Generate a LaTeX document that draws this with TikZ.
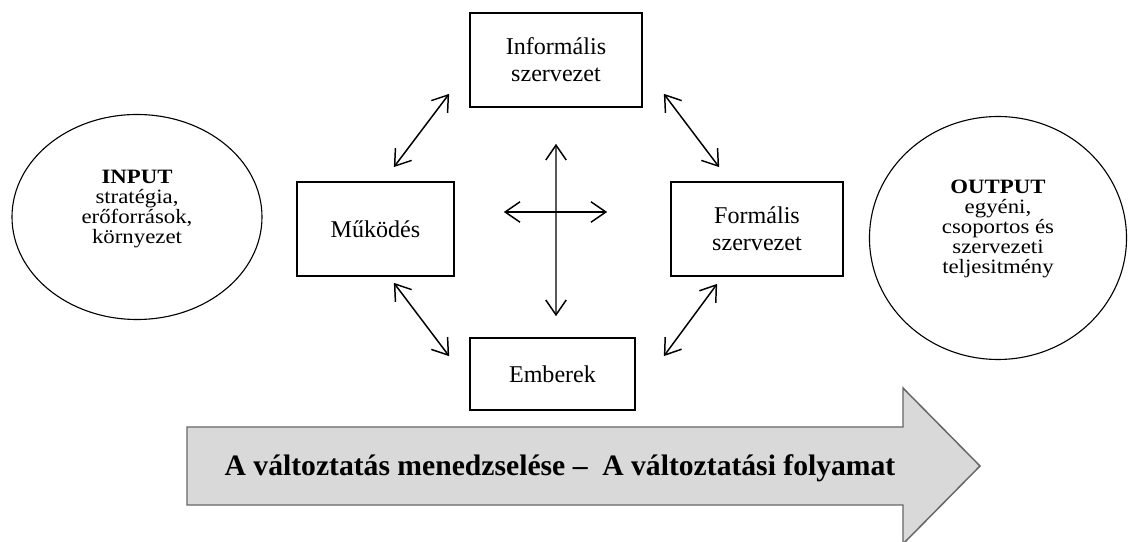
\documentclass[tikz,border=0pt]{standalone}
\usepackage{fontspec}
\setmainfont{Liberation Serif}
\newfontfamily\ovalbetu[FakeStretch=1.12]{Liberation Serif}
\usetikzlibrary{arrows.meta, shapes.geometric, calc}

\tikzset{
  doboz/.style={draw, line width=0.9pt, align=center, inner sep=0pt, font=\fontsize{13}{14.6}\selectfont},
  ovalis/.style={draw, line width=0.6pt, ellipse, inner sep=0pt},
  ovszoveg/.style={align=center, font=\ovalbetu\fontsize{11}{10.8}\selectfont},
  ketnyil/.style={line width=0.8pt, {Straight Barb[length=8pt,width=11pt]}-{Straight Barb[length=8pt,width=11pt]}},
}

\begin{document}
\begin{tikzpicture}[x=0.54pt, y=-0.54pt]
\useasboundingbox (0,0) rectangle (1128,542);

% nagy nyil
\draw[gray!80!black, line width=0.8pt, fill=gray!30]
  (187,427) -- (903,427) -- (903,388) -- (980,466) -- (903,544) -- (903,505) -- (187,505) -- cycle;
\node[font=\bfseries\fontsize{16}{18}\selectfont] (folyamat) at (560,468) {A változtatás menedzselése –\ \ A változtatási folyamat};

% dobozok
\node[doboz, minimum width=92.9pt, minimum height=50.8pt] (inf) at (556,60) {Informális\\szervezet};
\node[doboz, minimum width=84.8pt, minimum height=50.8pt] (mu) at (375.5,229) {Működés};
\node[doboz, minimum width=92.9pt, minimum height=50.8pt] (form) at (757,229) {Formális\\szervezet};
\node[doboz, minimum width=89.1pt, minimum height=38.9pt] (emb) at (552.5,374) {Emberek};

% input / output
\node[ovalis, minimum width=135pt, minimum height=110.7pt] (inp) at (137,217) {};
\node[ovszoveg] (inptxt) at (137,209) {\textbf{INPUT}\\stratégia,\\erőforrások,\\környezet};
\node[ovalis, minimum width=138.8pt, minimum height=131.2pt] (out) at (998,238) {};
\node[ovszoveg] (outtxt) at (998,229) {\textbf{OUTPUT}\\egyéni,\\csoportos és\\szervezeti\\teljesitmény};

% nyilak
\draw[ketnyil] ($(inf.south west)+(-20,-14)$) -- ($(mu.north east)+(-61,-14)$);
\draw[ketnyil] ($(inf.south east)+(21,-14)$) -- ($(form.north west)+(49,-14)$);
\draw[ketnyil] ($(mu.south east)+(-61,6)$) -- ($(emb.north west)+(-20,19)$);
\draw[ketnyil] ($(form.south west)+(47,7)$) -- ($(emb.north east)+(28,19)$);
\draw[ketnyil] ($(inf.south)+(0,36)$) -- ($(emb.north)+(3.5,-21)$);
\draw[ketnyil] ($(mu.east)+(49,-17)$) -- ($(form.west)+(-63,-17)$);
\end{tikzpicture}
\end{document}
